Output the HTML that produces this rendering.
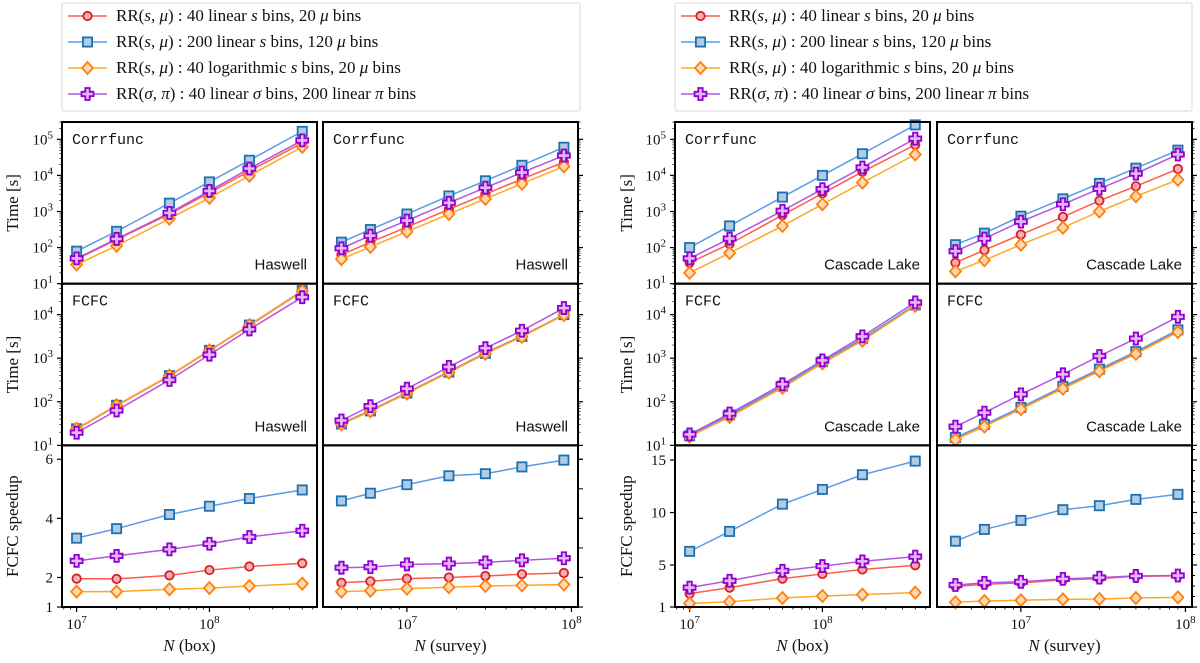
<!DOCTYPE html>
<html><head><meta charset="utf-8"><style>
html,body{margin:0;padding:0;background:#fff}
svg{display:block}
.tl{font-family:"Liberation Serif",serif;font-size:15px;fill:#111}
.lg{font-family:"Liberation Serif",serif;font-size:17px;fill:#111}
.mono{font-family:"Liberation Mono",monospace;font-size:15px;fill:#111}
.sans{font-family:"Liberation Sans",sans-serif;font-size:15px;fill:#111}
</style></head><body>
<svg id="fig" width="1200" height="663" viewBox="0 0 1200 663" xmlns="http://www.w3.org/2000/svg"></svg>
<script>
// ---- data ----
const boxN=[1e7,2e7,5e7,1e8,2e8,5e8];
const surveyN=[4e6,6e6,1e7,1.8e7,3e7,5e7,9e7];
const seriesNames=["red","blue","orange","purple"];
// Haswell, Corrfunc time (log10 seconds)
const hasCorrBoxRed=[1.68,2.22,2.93,3.52,4.12,4.90];
const hasCorrBoxBlue=[1.90,2.45,3.23,3.82,4.42,5.22];
const hasCorrBoxOrange=[1.53,2.05,2.80,3.38,3.99,4.79];
const hasCorrBoxPurple=[1.70,2.24,2.96,3.57,4.19,4.97];
const hasCorrSurRed=[1.80,2.15,2.57,3.06,3.48,3.90,4.37];
const hasCorrSurBlue=[2.15,2.50,2.93,3.43,3.85,4.28,4.78];
const hasCorrSurOrange=[1.68,2.02,2.44,2.93,3.35,3.77,4.25];
const hasCorrSurPurple=[1.98,2.33,2.75,3.24,3.66,4.08,4.55];
// Haswell, FCFC time (log10 seconds)
const hasFcfcBoxRed=[1.37,1.91,2.59,3.17,3.75,4.53];
const hasFcfcBoxBlue=[1.38,1.92,2.60,3.18,3.76,4.55];
const hasFcfcBoxOrange=[1.38,1.92,2.60,3.18,3.76,4.54];
const hasFcfcBoxPurple=[1.29,1.80,2.50,3.08,3.66,4.40];
const hasFcfcSurRed=[1.50,1.80,2.21,2.69,3.12,3.51,4.00];
const hasFcfcSurBlue=[1.49,1.79,2.20,2.68,3.11,3.50,4.00];
const hasFcfcSurOrange=[1.48,1.78,2.19,2.67,3.10,3.49,3.99];
const hasFcfcSurPurple=[1.57,1.90,2.30,2.80,3.23,3.63,4.15];
// Haswell speedup
const hasSpBoxRed=[1.96,1.95,2.07,2.25,2.37,2.48];
const hasSpBoxBlue=[3.33,3.65,4.13,4.41,4.67,4.96];
const hasSpBoxOrange=[1.52,1.52,1.60,1.64,1.71,1.79];
const hasSpBoxPurple=[2.56,2.73,2.95,3.14,3.37,3.58];
const hasSpSurRed=[1.82,1.87,1.96,2.00,2.05,2.11,2.15];
const hasSpSurBlue=[4.59,4.85,5.14,5.44,5.51,5.74,5.97];
const hasSpSurOrange=[1.52,1.55,1.62,1.67,1.71,1.73,1.76];
const hasSpSurPurple=[2.33,2.35,2.44,2.47,2.51,2.58,2.65];
// Cascade Lake, Corrfunc time
const casCorrBoxRed=[1.58,2.10,2.90,3.50,4.10,4.85];
const casCorrBoxBlue=[2.00,2.60,3.40,4.00,4.60,5.40];
const casCorrBoxOrange=[1.30,1.85,2.60,3.20,3.80,4.58];
const casCorrBoxPurple=[1.70,2.25,3.02,3.62,4.22,5.02];
const casCorrSurRed=[1.58,1.93,2.36,2.85,3.30,3.70,4.18];
const casCorrSurBlue=[2.08,2.40,2.87,3.35,3.78,4.20,4.70];
const casCorrSurOrange=[1.34,1.65,2.08,2.55,3.00,3.42,3.88];
const casCorrSurPurple=[1.90,2.25,2.72,3.20,3.63,4.05,4.58];
// Cascade Lake, FCFC time
const casFcfcBoxRed=[1.22,1.68,2.35,2.90,3.43,4.22];
const casFcfcBoxBlue=[1.22,1.70,2.36,2.92,3.45,4.22];
const casFcfcBoxOrange=[1.20,1.65,2.32,2.88,3.40,4.20];
const casFcfcBoxPurple=[1.25,1.73,2.40,2.95,3.50,4.28];
const casFcfcSurRed=[1.17,1.47,1.86,2.33,2.73,3.13,3.63];
const casFcfcSurBlue=[1.18,1.48,1.87,2.35,2.75,3.15,3.65];
const casFcfcSurOrange=[1.13,1.43,1.83,2.30,2.70,3.10,3.60];
const casFcfcSurPurple=[1.43,1.75,2.17,2.63,3.05,3.45,3.95];
// Cascade Lake speedup
const casSpBoxRed=[2.27,2.85,3.70,4.15,4.57,4.98];
const casSpBoxBlue=[6.3,8.2,10.8,12.2,13.6,14.9];
const casSpBoxOrange=[1.35,1.50,1.86,2.05,2.18,2.37];
const casSpBoxPurple=[2.85,3.50,4.45,4.90,5.35,5.80];
const casSpSurRed=[2.97,3.17,3.30,3.58,3.70,3.93,3.96];
const casSpSurBlue=[7.27,8.39,9.25,10.27,10.65,11.25,11.73];
const casSpSurOrange=[1.45,1.57,1.64,1.73,1.76,1.86,1.92];
const casSpSurPurple=[3.10,3.30,3.40,3.68,3.80,3.96,4.00];
const legendLabels=["RR(<i>s</i>, <i>μ</i>) : 40 linear <i>s</i> bins, 20 <i>μ</i> bins","RR(<i>s</i>, <i>μ</i>) : 200 linear <i>s</i> bins, 120 <i>μ</i> bins","RR(<i>s</i>, <i>μ</i>) : 40 logarithmic <i>s</i> bins, 20 <i>μ</i> bins","RR(<i>σ</i>, <i>π</i>) : 40 linear <i>σ</i> bins, 200 linear <i>π</i> bins"];

// ---- drawing ----
const NS="http://www.w3.org/2000/svg";
const svg=document.getElementById('fig');
function mk(tag,attrs,parent){const e=document.createElementNS(NS,tag);for(const k in attrs)e.setAttribute(k,attrs[k]);(parent||svg).appendChild(e);return e;}
const STY={
 red:{line:"#ff5a4a",edge:"#d4202a",face:"#f7b0b0",m:"o"},
 blue:{line:"#5a9be8",edge:"#1f70b0",face:"#b0cce4",m:"s"},
 orange:{line:"#ffa726",edge:"#ff7f0e",face:"#ffd9b0",m:"d"},
 purple:{line:"#b455e0",edge:"#9000d0",face:"#e4b8f4",m:"p"}};
function marker(g,kind,x,y,s){
 let e;
 if(kind==="o")e=mk('circle',{cx:x,cy:y,r:4.2},g);
 else if(kind==="s")e=mk('rect',{x:x-4.6,y:y-4.6,width:9.2,height:9.2},g);
 else if(kind==="d")e=mk('polygon',{points:`${x},${y-6} ${x+5.5},${y} ${x},${y+6} ${x-5.5},${y}`},g);
 else{const a=2.2,b=6;e=mk('polygon',{points:`${x-a},${y-b} ${x+a},${y-b} ${x+a},${y-a} ${x+b},${y-a} ${x+b},${y+a} ${x+a},${y+a} ${x+a},${y+b} ${x-a},${y+b} ${x-a},${y+a} ${x-b},${y+a} ${x-b},${y-a} ${x-a},${y-a}`},g);}
 e.setAttribute('fill',s.face);e.setAttribute('stroke',s.edge);e.setAttribute('stroke-width','1.8');
 return e;
}
function sup(parent,x,y,base,exp,anchor,name){
 const t=mk('text',{x:x,y:y,class:'tl','text-anchor':anchor},parent);
 
 
 t.appendChild(document.createTextNode(base));
 const s=mk('tspan',{dy:-6,'font-size':'11px'},t);s.textContent=exp;
 return t;
}
const groups=[{x0:[62,323],lx:62,lx1:580,pre:"has",cpu:"Haswell",spMax:6.47,spMaj:[1,2,4,6],spMinR:[2,3,4,5,6],ylab:18},
              {x0:[675,937],lx:675,lx1:1192,pre:"cas",cpu:"Cascade Lake",spMax:16.4,spMaj:[1,5,10,15],spMinR:[2,3,4,6,7,8,9,11,12,13,14,16],ylab:632}];
const PW=255, Y0=122, RH=161.67;
const rows=[{key:"Corr",type:"log",lo:1,hi:5.48,title:"Corrfunc"},{key:"Fcfc",type:"log",lo:1,hi:4.71,title:"FCFC"},{key:"Sp",type:"lin"}];
const cols=[{key:"Box",xs:boxN,lo:6.89,hi:8.81,xlab:"(box)"},{key:"Sur",xs:surveyN,lo:6.49,hi:8.04,xlab:"(survey)"}];
const DATA={hasCorrBoxRed,hasCorrBoxBlue,hasCorrBoxOrange,hasCorrBoxPurple,hasCorrSurRed,hasCorrSurBlue,hasCorrSurOrange,hasCorrSurPurple,
hasFcfcBoxRed,hasFcfcBoxBlue,hasFcfcBoxOrange,hasFcfcBoxPurple,hasFcfcSurRed,hasFcfcSurBlue,hasFcfcSurOrange,hasFcfcSurPurple,
hasSpBoxRed,hasSpBoxBlue,hasSpBoxOrange,hasSpBoxPurple,hasSpSurRed,hasSpSurBlue,hasSpSurOrange,hasSpSurPurple,
casCorrBoxRed,casCorrBoxBlue,casCorrBoxOrange,casCorrBoxPurple,casCorrSurRed,casCorrSurBlue,casCorrSurOrange,casCorrSurPurple,
casFcfcBoxRed,casFcfcBoxBlue,casFcfcBoxOrange,casFcfcBoxPurple,casFcfcSurRed,casFcfcSurBlue,casFcfcSurOrange,casFcfcSurPurple,
casSpBoxRed,casSpBoxBlue,casSpBoxOrange,casSpBoxPurple,casSpSurRed,casSpSurBlue,casSpSurOrange,casSpSurPurple};
const cap=s=>s[0].toUpperCase()+s.slice(1);

groups.forEach((G,gi)=>{
 const gg=mk('g',{});
 
 
 const lg=mk('g',{},gg);
 
 
 mk('rect',{x:G.lx,y:3,width:G.lx1-G.lx,height:108,fill:'#fff',stroke:'#d8d8d8','stroke-width':1,rx:2},lg);
 seriesNames.forEach((sn,i)=>{
  const s=STY[sn], y=16+i*26;
  const e=mk('g',{},lg);
  
  
  mk('line',{x1:G.lx+6,x2:G.lx+45,y1:y,y2:y,stroke:s.line,'stroke-width':1.5},e);
  marker(e,s.m,G.lx+25.5,y,s);
  const fo=mk('foreignObject',{x:G.lx+54,y:y-12,width:470,height:24},e);
  const d=document.createElement('div');
  d.style.cssText='font-family:"Liberation Serif",serif;font-size:17px;color:#111;white-space:nowrap;line-height:24px';
  d.innerHTML=legendLabels[i];fo.appendChild(d);
 });
 rows.forEach((R,ri)=>{
  const py=Y0+ri*RH;
  let ylo,yhi,lin=R.type==="lin";
  if(lin){ylo=1;yhi=G.spMax;}else{ylo=R.lo;yhi=R.hi;}
  const ymap=v=>py+RH-(v-ylo)/(yhi-ylo)*RH;
  const yl=mk('text',{x:G.ylab,y:py+RH/2,class:'lg','text-anchor':'middle',transform:`rotate(-90 ${G.ylab} ${py+RH/2})`},gg);
  
  
  yl.textContent=lin?"FCFC speedup":"Time [s]";
  cols.forEach((C,ci)=>{
   const px=G.x0[ci];
   const xmap=v=>px+(Math.log10(v)-C.lo)/(C.hi-C.lo)*PW;
   const pg=mk('g',{},gg);
   
   
   const tickSide=ci===0?-1:1, ax=ci===0?px:px+PW;
   if(lin){
    G.spMaj.forEach(v=>{const y=ymap(v);mk('line',{x1:ax,x2:ax+tickSide*5,y1:y,y2:y,stroke:'#000','stroke-width':1.2},pg);
      if(ci===0){const t=mk('text',{x:px-9,y:y+5,class:'tl','text-anchor':'end'},pg);t.textContent=v;}});
    if(ci===1)G.spMinR.forEach(v=>{const y=ymap(v);if(v<=yhi)mk('line',{x1:ax,x2:ax+5*(gi===1&&v%5?0.6:1),y1:y,y2:y,stroke:'#000','stroke-width':1},pg);});
   }else{
    for(let d=Math.floor(ylo);d<=Math.ceil(yhi);d++){
     for(let m=1;m<10;m++){const lv=d+Math.log10(m);if(lv<ylo-1e-6||lv>yhi)continue;const y=ymap(lv);
      mk('line',{x1:ax,x2:ax+tickSide*(m===1?5:2.5),y1:y,y2:y,stroke:'#000','stroke-width':m===1?1.2:0.8},pg);
      if(m===1&&ci===0)sup(pg,px-9,y+5,"10",String(d),'end','y-tick-label');}
    }
   }
   if(lin){
    for(let d=6;d<=9;d++)for(let m=1;m<10;m++){const lv=d+Math.log10(m);if(lv<C.lo||lv>C.hi)continue;const x=px+(lv-C.lo)/(C.hi-C.lo)*PW;
     mk('line',{x1:x,x2:x,y1:py+RH,y2:py+RH+(m===1?5:2.5),stroke:'#000','stroke-width':m===1?1.2:0.8},pg);
     if(m===1)sup(pg,x,py+RH+22,"10",String(d),'middle','x-tick-label');}
    const xl=mk('text',{x:px+PW/2,y:651,class:'lg','text-anchor':'middle'},pg);
    
    xl.innerHTML='<tspan font-style="italic">N</tspan> '+C.xlab;
   }
   seriesNames.forEach(sn=>{
    const arr=DATA[G.pre+R.key+C.key+cap(sn)], s=STY[sn];
    const sg=mk('g',{},pg);
    
    
    const pts=arr.map((v,i)=>[xmap(C.xs[i]),ymap(v)]);
    const pl=mk('polyline',{points:pts.map(p=>p.join(',')).join(' '),fill:'none',stroke:s.line,'stroke-width':1.5},sg);
    
    pts.forEach(p=>{const m=marker(sg,s.m,p[0],p[1],s);});
   });
   const fr=mk('rect',{x:px,y:py,width:PW,height:RH,fill:'none',stroke:'#000','stroke-width':2},pg);
   
   if(!lin){
    const t=mk('text',{x:px+10,y:py+22,class:'mono'},pg);t.textContent=R.title;
    const c=mk('text',{x:px+PW-10,y:py+RH-14,class:'sans','text-anchor':'end'},pg);c.textContent=G.cpu;
   }
  });
 });
});
</script>
</body></html>
